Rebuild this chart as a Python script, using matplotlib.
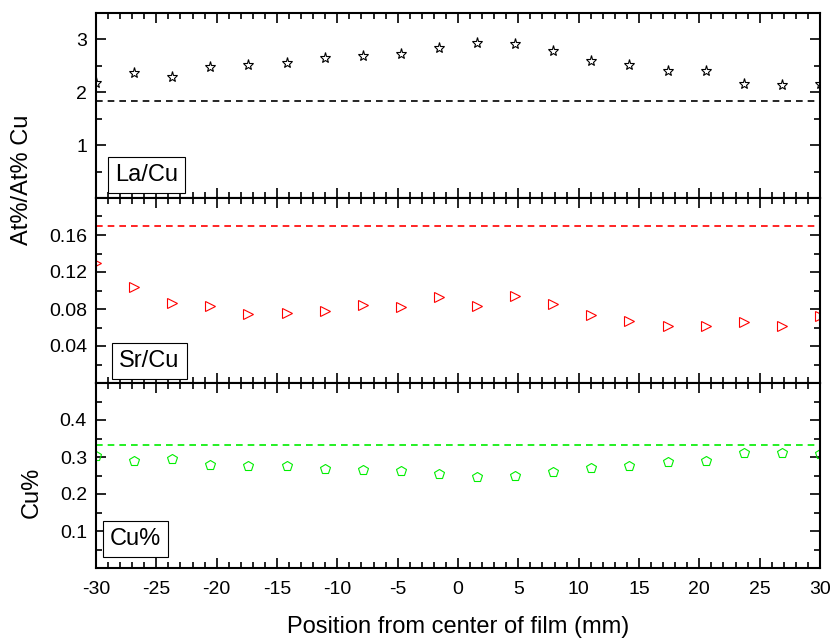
import numpy as np
import matplotlib
matplotlib.use('Agg')
from matplotlib import pyplot as plt
from matplotlib.ticker import MultipleLocator

plt.rcParams['font.family'] = ['Liberation Sans', 'DejaVu Sans']
plt.rcParams['axes.unicode_minus'] = False

# position from center of film (mm)
pos = [-30, -26.84, -23.68, -20.53, -17.37, -14.21, -11.05, -7.89, -4.74, -1.58,
       1.58, 4.74, 7.89, 11.05, 14.21, 17.37, 20.53, 23.68, 26.84, 30]

la_cu = [2.17, 2.36, 2.29, 2.48, 2.51, 2.56, 2.64, 2.69, 2.73, 2.84,
         2.93, 2.91, 2.78, 2.59, 2.51, 2.41, 2.40, 2.16, 2.13, 2.15]
sr_cu = [0.130, 0.104, 0.087, 0.083, 0.075, 0.076, 0.078, 0.084, 0.082, 0.093,
         0.083, 0.094, 0.085, 0.074, 0.067, 0.062, 0.062, 0.066, 0.062, 0.072]
cu_pct = [0.302, 0.288, 0.295, 0.279, 0.277, 0.275, 0.268, 0.265, 0.262, 0.253,
          0.247, 0.248, 0.259, 0.271, 0.277, 0.286, 0.288, 0.310, 0.312, 0.309]

la_cu_ref = 1.84
sr_cu_ref = 0.170
cu_ref = 0.332

fig = plt.figure(figsize=(8.32, 6.43), dpi=100)
left, right, bottom, top = 96 / 832, 820 / 832, 1 - 568 / 643, 1 - 13 / 643
h = (top - bottom) / 3
ax1 = fig.add_axes([left, bottom + 2 * h, right - left, h])
ax2 = fig.add_axes([left, bottom + h, right - left, h], sharex=ax1)
ax3 = fig.add_axes([left, bottom, right - left, h], sharex=ax1)

ax1.plot(pos, la_cu, ls='none', marker='*', ms=8, mfc='none', mec='black', mew=0.8)
ax1.axhline(la_cu_ref, color='black', ls='--', lw=1.2, dashes=(4, 3))
ax1.set_ylim(0, 3.5)
ax1.set_yticks([1, 2, 3])
ax1.yaxis.set_minor_locator(MultipleLocator(0.5))

ax2.plot(pos, sr_cu, ls='none', marker='>', ms=7, mfc='none', mec='red', mew=0.8)
ax2.axhline(sr_cu_ref, color='red', ls='--', lw=1.2, dashes=(4, 3))
ax2.set_ylim(0, 0.2)
ax2.set_yticks([0.04, 0.08, 0.12, 0.16])
ax2.set_yticklabels(['0.04', '0.08', '0.12', '0.16'])
ax2.yaxis.set_minor_locator(MultipleLocator(0.02))

ax3.plot(pos, cu_pct, ls='none', marker='p', ms=7, mfc='none', mec='#00ee00', mew=0.8)
ax3.axhline(cu_ref, color='#00ee00', ls='--', lw=1.2, dashes=(4, 3))
ax3.set_ylim(0, 0.5)
ax3.set_yticks([0.1, 0.2, 0.3, 0.4])
ax3.set_yticklabels(['0.1', '0.2', '0.3', '0.4'])
ax3.yaxis.set_minor_locator(MultipleLocator(0.05))

ax3.set_xlim(-30, 30)
ax3.xaxis.set_major_locator(MultipleLocator(5))
ax3.xaxis.set_minor_locator(MultipleLocator(1))

for ax in (ax1, ax2, ax3):
    for s in ax.spines.values():
        s.set_linewidth(1.5)
    ax.tick_params(which='both', direction='in', top=True, right=True, width=1.2)
    ax.tick_params(which='major', length=7, labelsize=14)
    ax.tick_params(which='minor', length=4)
    ax.tick_params(axis='y', which='major', pad=6.5)
    ax.tick_params(axis='x', which='major', pad=9.5)
for ax in (ax1, ax2):
    ax.tick_params(labelbottom=False)

box = dict(boxstyle='square,pad=0.3', fc='white', ec='black', lw=0.8)
ax1.text(0.026, 0.065, 'La/Cu', transform=ax1.transAxes, fontsize=17,
         va='bottom', ha='left', bbox=box)
ax2.text(0.032, 0.059, 'Sr/Cu', transform=ax2.transAxes, fontsize=17,
         va='bottom', ha='left', bbox=box)
ax3.text(0.019, 0.097, 'Cu%', transform=ax3.transAxes, fontsize=17,
         va='bottom', ha='left', bbox=box)

fig.text(22 / 832, 1 - 180 / 643, 'At%/At% Cu', rotation=90, fontsize=17,
         va='center', ha='center')
fig.text(32 / 832, 1 - 492 / 643, 'Cu%', rotation=90, fontsize=17,
         va='center', ha='center')
ax3.set_xlabel('Position from center of film (mm)', fontsize=17, labelpad=13)

fig.savefig('out.png', dpi=100)
